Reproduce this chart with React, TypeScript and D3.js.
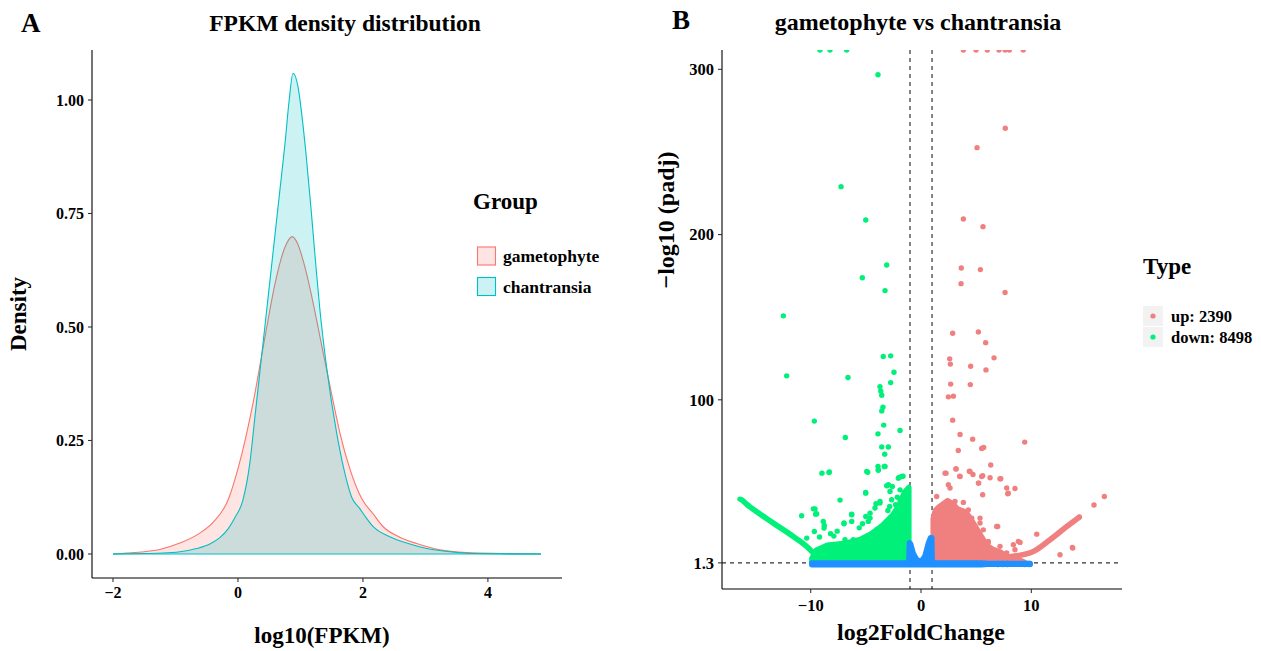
import React from "react";
import * as d3 from "d3";

// ---------------- Panel A data: density curves (log10 FPKM, density) ----------------
const gametophyteDensity: [number, number][] = [
  [-2.0, 0], [-1.78, 0.002], [-1.5, 0.005], [-1.25, 0.01], [-0.93, 0.024], [-0.61, 0.046],
  [-0.395, 0.07], [-0.155, 0.12], [0.005, 0.19], [0.245, 0.335], [0.443, 0.486], [0.6, 0.6],
  [0.75, 0.675], [0.87, 0.699], [0.95, 0.685], [1.07, 0.633], [1.2, 0.555], [1.31, 0.48],
  [1.525, 0.335], [1.64, 0.262], [1.79, 0.188], [1.98, 0.122], [2.165, 0.088], [2.325, 0.06],
  [2.59, 0.037], [2.86, 0.023], [3.23, 0.009], [3.66, 0.003], [4.2, 0.001], [4.85, 0],
];
const chantransiaDensity: [number, number][] = [
  [-2.0, 0], [-1.5, 0.001], [-1.2, 0.002], [-0.93, 0.005], [-0.66, 0.012], [-0.45, 0.022],
  [-0.29, 0.036], [-0.155, 0.056], [-0.05, 0.08], [0.08, 0.119], [0.19, 0.2], [0.27, 0.3],
  [0.35, 0.4], [0.43, 0.5], [0.51, 0.6], [0.59, 0.7], [0.67, 0.8], [0.75, 0.9], [0.82, 1.0],
  [0.88, 1.059], [0.96, 1.03], [1.02, 0.97], [1.09, 0.88], [1.17, 0.76], [1.25, 0.63],
  [1.31, 0.54], [1.42, 0.41], [1.58, 0.266], [1.69, 0.19], [1.82, 0.125], [1.95, 0.1],
  [2.05, 0.08], [2.165, 0.06], [2.43, 0.038], [2.7, 0.024], [3.02, 0.012], [3.39, 0.005],
  [3.8, 0.001], [4.85, 0],
];
const groupNames = ["gametophyte", "chantransia"];
const densityXTicks = [-2, 0, 2, 4];
const densityYTicks = [0, 0.25, 0.5, 0.75, 1.0];

// ---------------- Panel B data: volcano (log2FoldChange, -log10 padj) ----------------
const Y_CAP = 311.7;
const downCapped: number[] = [-9.16, -8.25, -6.74];
const upCapped: number[] = [3.84, 4.99, 6.01, 7.07, 7.62, 8.01, 9.27];
const downPoints: [number, number][] = [
  [-3.9, 296.7], [-7.25, 229.0], [-5.01, 208.8], [-3.11, 181.6], [-5.32, 173.9], [-3.26, 166.1],
  [-12.48, 150.8], [-3.42, 126.2], [-2.75, 126.6], [-12.18, 114.5], [-6.62, 113.5], [-2.45, 116.7],
  [-2.75, 110.4], [-3.72, 108.0], [-3.65, 105.4], [-3.56, 102.8], [-3.45, 95.5], [-3.56, 93.3],
  [-9.67, 87.1], [-3.38, 84.7], [-1.9, 81.4], [-3.9, 79.4], [-6.86, 77.2], [-3.56, 71.5],
  [-2.96, 71.4], [-3.29, 67.1], [-3.33, 59.6], [-8.98, 55.6], [-8.31, 56.4], [-4.83, 56.2],
  [-3.87, 57.4], [-1.99, 53.0], [-1.63, 53.8], [-16.41, 39.9], [-15.66, 36.1], [-10.82, 29.8],
  [-9.76, 34.0], [-9.55, 30.8], [-7.34, 39.3], [-5.02, 43.9], [-6.29, 30.8], [-6.98, 25.0],
  [-8.77, 24.0], [-4.08, 37.1], [-3.72, 38.5], [-4.62, 28.4], [-3.9, 59.6], [-3.11, 48.0],
  [-2.6, 47.5], [-2.06, 52.6], [-2.15, 41.1], [-2.84, 35.4], [-9.61, 33.9], [-9.46, 31.0],
  [-8.86, 26.4], [-9.67, 20.3], [-10.36, 16.3], [-8.79, 22.4], [-6.28, 30.4], [-6.98, 25.4],
  [-6.28, 26.4], [-6.89, 15.3], [-6.14, 15.3], [-5.01, 43.5], [-3.87, 57.6], [-3.26, 59.6],
  [-4.92, 56.6], [-8.34, 56.0], [-2.96, 48.6], [-2.81, 44.5], [-1.9, 45.5], [-1.75, 53.6],
  [-2.66, 39.5], [-1.9, 39.5], [-3.72, 37.5], [-4.17, 34.5], [-4.62, 31.4], [-4.78, 26.4],
  [-4.02, 21.4], [-5.01, 29.4], [-7.6, 20.5], [-8.2, 19.0], [-5.6, 22.5], [-7.9, 17.5],
  [-9.2, 17.0], [-5.3, 25.0], [-3.0, 33.0], [-2.3, 36.5],
];
const upPoints: [number, number][] = [
  [7.64, 264.3], [5.08, 252.6], [3.84, 209.4], [5.62, 204.8], [3.65, 179.8], [5.38, 178.8],
  [3.63, 170.3], [7.62, 164.9], [2.87, 140.3], [5.2, 141.1], [5.86, 134.6], [6.62, 125.4],
  [2.6, 124.8], [2.66, 121.6], [4.5, 120.3], [5.89, 118.1], [2.69, 109.5], [4.47, 109.2],
  [2.48, 101.8], [2.93, 102.2], [2.87, 87.7], [3.54, 79.0], [4.68, 76.2], [9.4, 74.4],
  [3.38, 69.3], [5.5, 70.5], [5.68, 71.1], [6.32, 60.5], [3.17, 58.2], [2.27, 55.6],
  [4.38, 56.8], [4.71, 54.8], [3.51, 53.8], [5.59, 54.0], [6.26, 52.8], [7.23, 52.2],
  [16.62, 41.5], [15.68, 36.3], [14.35, 29.0], [13.75, 10.3], [12.6, 6.2], [10.49, 18.7],
  [8.52, 46.3], [7.77, 46.6], [7.86, 43.1], [6.95, 23.3], [5.59, 42.5], [5.23, 49.6],
  [8.37, 12.3], [8.98, 13.7], [6.1, 13.7], [2.18, 55.6], [3.17, 58.1], [3.54, 53.6],
  [4.44, 56.6], [5.5, 53.6], [7.16, 52.2], [5.2, 49.6], [7.91, 43.5], [2.48, 48.6],
  [2.63, 46.6], [1.42, 41.5], [1.72, 35.4], [3.08, 38.5], [3.84, 37.9], [2.02, 32.4],
  [4.29, 33.4], [4.6, 28.4], [5.35, 28.4], [5.35, 25.4], [6.86, 23.3], [5.65, 21.3],
  [5.05, 17.3], [6.1, 14.3], [7.16, 11.3], [8.82, 14.3], [13.72, 10.6], [7.77, 7.3], [8.52, 9.3],
];
// dense, overplotted regions (outlines)
const downCloud: [number, number][] = [
  [-9.9, 1.3], [-9.9, 4], [-9.5, 9], [-8.5, 12], [-7.0, 13], [-5.5, 15.5], [-4.5, 19],
  [-3.5, 24], [-2.6, 30], [-2.0, 36], [-1.5, 44], [-1.1, 47], [-1.1, 1.3],
];
const downArm: [number, number][] = [
  [-16.2, 39.2], [-15.66, 36.0], [-15.05, 33.0], [-13.39, 25.4], [-11.58, 17.3], [-10.36, 11.2], [-9.46, 5.2],
];
const upCloud: [number, number][] = [
  [1.1, 1.3], [1.1, 28], [1.3, 33], [1.6, 35], [2.0, 37], [2.4, 39], [2.9, 37], [3.3, 34],
  [4.1, 32], [4.6, 27], [5.05, 22], [5.5, 17], [5.96, 12], [6.5, 9.5], [7.16, 8],
  [8.07, 4.5], [8.98, 3], [9.5, 1.3],
];
const upArm: [number, number][] = [
  [8.07, 5.0], [10.18, 8.2], [11.7, 15.3], [13.21, 23.3], [14.35, 29.0],
];
const nsBand: [number, number][] = [
  [-9.9, 0.2], [-9.9, 1.2], [-1.12, 1.2], [-1.05, 13.5], [-0.95, 13.0], [-0.7, 7], [-0.4, 3.5],
  [0, 1.8], [0.36, 5.5], [0.66, 13.0], [0.86, 16.5], [0.98, 16.5], [1.02, 1.2], [5.5, 1.2],
  [6.0, 0.9], [9.9, 0.9], [9.9, 0.4], [6.0, 0.4], [5.5, 0.2],
];
const nsLumps: [number, number][] = [[7.0, 0.6], [7.4, 0.6], [7.8, 0.6], [9.4, 0.6], [9.8, 0.6]];
const volcanoXTicks = [-10, 0, 10];
const volcanoYTicks = [1.3, 100, 200, 300];
const typeLabels = ["up: 2390", "down: 8498"];

const COL_GAM = "#F8766D";
const COL_CHA = "#00BFC4";
const COL_UP = "#F08080";
const COL_DOWN = "#00F07A";
const COL_NS = "#1E90FF";
const FONT = "'Liberation Serif', 'Times New Roman', serif";

export default function App() {
  // ---- Panel A scales
  const xA = d3.scaleLinear().domain([-2.336, 5.186]).range([92, 562]);
  const yA = d3.scaleLinear().domain([-0.0529, 1.1101]).range([578, 50]);
  const areaA = d3.area<[number, number]>().x((d) => xA(d[0])).y0(yA(0)).y1((d) => yA(d[1])).curve(d3.curveMonotoneX);
  const lineA = d3.line<[number, number]>().x((d) => xA(d[0])).y((d) => yA(d[1])).curve(d3.curveMonotoneX);
  const fmtA = d3.format(".2f");

  // ---- Panel B scales
  const xB = d3.scaleLinear().domain([-18.04, 18.22]).range([722, 1122]);
  const yB = d3.scaleLinear().domain([-14.5, Y_CAP]).range([589, 50]);
  const polyB = d3.line<[number, number]>().x((d) => xB(d[0])).y((d) => yB(d[1])).curve(d3.curveLinearClosed);
  const lineB = d3.line<[number, number]>().x((d) => xB(d[0])).y((d) => yB(d[1])).curve(d3.curveMonotoneX);
  const r = 2.7;

  return (
    <svg width={1261} height={651} style={{ position: "fixed", left: 0, top: 0, background: "#fff" }} fontFamily={FONT}>
      <defs>
        <clipPath id="clipB">
          <rect x={722} y={50} width={400} height={539} />
        </clipPath>
      </defs>
      <rect x={0} y={0} width={1261} height={651} fill="#fff" />

      {/* ============ Panel A ============ */}
      <text x={21} y={32} fontSize={27} fontWeight="bold">A</text>
      <text x={345} y={31} fontSize={23.5} fontWeight="bold" textAnchor="middle">FPKM density distribution</text>

      <path d={areaA(gametophyteDensity) || ""} fill={COL_GAM} fillOpacity={0.2} />
      <path d={lineA(gametophyteDensity) || ""} fill="none" stroke={COL_GAM} strokeWidth={1.1} />
      <path d={areaA(chantransiaDensity) || ""} fill={COL_CHA} fillOpacity={0.2} />
      <path d={lineA(chantransiaDensity) || ""} fill="none" stroke={COL_CHA} strokeWidth={1.1} />
      <line x1={xA(-2)} x2={xA(4.85)} y1={yA(0)} y2={yA(0)} stroke={COL_CHA} strokeWidth={1.1} />

      <line x1={92} x2={92} y1={50} y2={578} stroke="#000" strokeWidth={1.1} />
      <line x1={92} x2={562} y1={578} y2={578} stroke="#000" strokeWidth={1.1} />
      {densityYTicks.map((t) => (
        <g key={"ya" + t}>
          <line x1={88} x2={92} y1={yA(t)} y2={yA(t)} stroke="#333" strokeWidth={1.1} />
          <text x={84} y={yA(t)} dy="0.35em" textAnchor="end" fontSize={16} fontWeight="bold">{fmtA(t)}</text>
        </g>
      ))}
      {densityXTicks.map((t) => (
        <g key={"xa" + t}>
          <line x1={xA(t)} x2={xA(t)} y1={578} y2={582} stroke="#333" strokeWidth={1.1} />
          <text x={xA(t)} y={598} textAnchor="middle" fontSize={16} fontWeight="bold">{d3.format("d")(t)}</text>
        </g>
      ))}
      <text x={322} y={643} textAnchor="middle" fontSize={23} fontWeight="bold">log10(FPKM)</text>
      <text transform="translate(26,314) rotate(-90)" textAnchor="middle" fontSize={23} fontWeight="bold">Density</text>

      {/* legend A */}
      <text x={473} y={209} fontSize={23} fontWeight="bold">Group</text>
      {groupNames.map((g, i) => (
        <g key={g}>
          <rect x={477.5} y={247 + i * 30.5} width={18} height={18} fill={i === 0 ? COL_GAM : COL_CHA} fillOpacity={0.2}
            stroke={i === 0 ? COL_GAM : COL_CHA} strokeWidth={1.1} />
          <text x={503} y={262 + i * 30.5} fontSize={17.5} fontWeight="bold">{g}</text>
        </g>
      ))}

      {/* ============ Panel B ============ */}
      <text x={672} y={29} fontSize={27} fontWeight="bold">B</text>
      <text x={918} y={30} fontSize={24} fontWeight="bold" textAnchor="middle">gametophyte vs chantransia</text>

      <g clipPath="url(#clipB)">
        <line x1={xB(-1)} x2={xB(-1)} y1={50} y2={589} stroke="#333" strokeWidth={1.2} strokeDasharray="4,4" />
        <line x1={xB(1)} x2={xB(1)} y1={50} y2={589} stroke="#333" strokeWidth={1.2} strokeDasharray="4,4" />
        <line x1={722} x2={1122} y1={yB(1.3)} y2={yB(1.3)} stroke="#333" strokeWidth={1.2} strokeDasharray="4,4" />

        {/* down (green) */}
        <path d={polyB(downCloud) || ""} fill={COL_DOWN} stroke={COL_DOWN} strokeWidth={5.4} strokeLinejoin="round" />
        <path d={lineB(downArm) || ""} fill="none" stroke={COL_DOWN} strokeWidth={5.6} strokeLinecap="round" />
        {downPoints.map((p, i) => (
          <circle key={"d" + i} cx={xB(p[0])} cy={yB(p[1])} r={r} fill={COL_DOWN} />
        ))}
        {downCapped.map((v, i) => (
          <circle key={"dc" + i} cx={xB(v)} cy={yB(Y_CAP)} r={r} fill={COL_DOWN} />
        ))}

        {/* up (red) */}
        <path d={polyB(upCloud) || ""} fill={COL_UP} stroke={COL_UP} strokeWidth={5.4} strokeLinejoin="round" />
        <path d={lineB(upArm) || ""} fill="none" stroke={COL_UP} strokeWidth={5.6} strokeLinecap="round" />
        {upPoints.map((p, i) => (
          <circle key={"u" + i} cx={xB(p[0])} cy={yB(p[1])} r={r} fill={COL_UP} />
        ))}
        {upCapped.map((v, i) => (
          <circle key={"uc" + i} cx={xB(v)} cy={yB(Y_CAP)} r={r} fill={COL_UP} />
        ))}

        {/* not significant (blue) */}
        <path d={polyB(nsBand) || ""} fill={COL_NS} stroke={COL_NS} strokeWidth={5.4} strokeLinejoin="round" />
        {nsLumps.map((p, i) => (
          <circle key={"n" + i} cx={xB(p[0])} cy={yB(p[1])} r={3.2} fill={COL_NS} />
        ))}
      </g>

      <line x1={722} x2={722} y1={50} y2={589} stroke="#000" strokeWidth={1.1} />
      <line x1={722} x2={1122} y1={589} y2={589} stroke="#000" strokeWidth={1.1} />
      {volcanoYTicks.map((t) => (
        <g key={"yb" + t}>
          <line x1={718} x2={722} y1={yB(t)} y2={yB(t)} stroke="#333" strokeWidth={1.1} />
          <text x={714} y={yB(t)} dy="0.35em" textAnchor="end" fontSize={16.5} fontWeight="bold">{String(t)}</text>
        </g>
      ))}
      {volcanoXTicks.map((t) => (
        <g key={"xb" + t}>
          <line x1={xB(t)} x2={xB(t)} y1={589} y2={593} stroke="#333" strokeWidth={1.1} />
          <text x={xB(t)} y={611} textAnchor="middle" fontSize={16.5} fontWeight="bold">{d3.format("d")(t)}</text>
        </g>
      ))}
      <text x={921} y={640} textAnchor="middle" fontSize={24} fontWeight="bold">log2FoldChange</text>
      <text transform="translate(674,220) rotate(-90)" textAnchor="middle" fontSize={24} fontWeight="bold">−log10 (padj)</text>

      {/* legend B */}
      <text x={1143} y={274} fontSize={23} fontWeight="bold">Type</text>
      {typeLabels.map((lab, i) => (
        <g key={lab}>
          <rect x={1143} y={306 + i * 21} width={20} height={20} fill="#F2F2F2" />
          <circle cx={1153} cy={316 + i * 21} r={2.6} fill={i === 0 ? COL_UP : COL_DOWN} />
          <text x={1171} y={321.5 + i * 21} fontSize={16.5} fontWeight="bold">{lab}</text>
        </g>
      ))}
    </svg>
  );
}
